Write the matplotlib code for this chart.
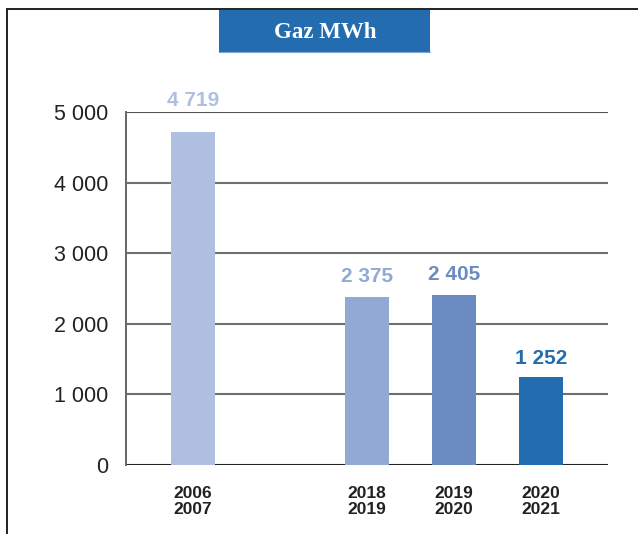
import matplotlib.pyplot as plt
import matplotlib.patches as patches
from matplotlib.lines import Line2D

# Consommation de gaz par saison
saisons = ["2006\n2007", "2018\n2019", "2019\n2020", "2020\n2021"]
positions = [0, 2, 3, 4]
gaz_mwh = [4719, 2375, 2405, 1252]
couleurs = ["#AFBFDF", "#91A9D3", "#6B8CC2", "#236CAF"]
graduations = [0, 1000, 2000, 3000, 4000, 5000]
# decalage des etiquettes au-dessus des barres (points)
decalages = [15.5, 8.5, 8, 6.5]

POLICE = ["Liberation Sans", "DejaVu Sans"]


def fmt(v):
    return f"{v:,}".replace(",", " ")


fig = plt.figure(figsize=(6.38, 5.34), dpi=100)

# Cadre: trait en haut et a gauche
fig.add_artist(Line2D([7 / 638, 1], [1 - 9 / 534, 1 - 9 / 534], color="#222222", lw=1.4))
fig.add_artist(Line2D([7 / 638, 7 / 638], [0, 1 - 9 / 534], color="#222222", lw=1.4))

# Bandeau du titre
fig.add_artist(patches.Rectangle((219 / 638, 1 - 52 / 534), 211 / 638, 42 / 534,
                                 transform=fig.transFigure, facecolor="#236CAF",
                                 edgecolor="none"))
fig.add_artist(Line2D([219 / 638, 430 / 638], [1 - 52 / 534, 1 - 52 / 534],
                      color="#7FA6D6", lw=0.8))
fig.text(325 / 638, 1 - 32 / 534, "Gaz MWh", color="white", ha="center", va="center",
         fontsize=16.5, fontweight="bold", family="Liberation Serif")

ax = fig.add_axes([126 / 638, 69 / 534, 482 / 638, 353 / 534])
ax.set_xlim(-0.77, 4.77)
ax.set_ylim(0, 5000)

for g in graduations:
    if g == 0:
        col = "#222222"
    elif g == 5000:
        col = "#555555"
    else:
        col = "#707070"
    ax.axhline(g, color=col, lw=1.5, zorder=1)

ax.bar(positions, gaz_mwh, width=0.5, color=couleurs, zorder=2)

for x, v, c, d in zip(positions, gaz_mwh, couleurs, decalages):
    ax.annotate(fmt(v), (x, v), xytext=(0, d), textcoords="offset points",
                ha="center", va="bottom", color=c, fontsize=15, fontweight="bold",
                family=POLICE, annotation_clip=False)

for s in ["top", "right", "bottom"]:
    ax.spines[s].set_visible(False)
ax.spines["left"].set_color("#666666")
ax.spines["left"].set_linewidth(1.4)

ax.set_yticks(graduations)
ax.set_yticklabels([fmt(g) for g in graduations], fontsize=15.5, color="#222222",
                   family=POLICE)
ax.set_xticks(positions)
ax.set_xticklabels(saisons, fontsize=12.5, fontweight="bold", color="#222222",
                   family=POLICE, linespacing=1.1)
ax.tick_params(axis="y", length=0, pad=13)
ax.tick_params(axis="x", length=0, pad=15)

fig.savefig("out.png", dpi=100)
